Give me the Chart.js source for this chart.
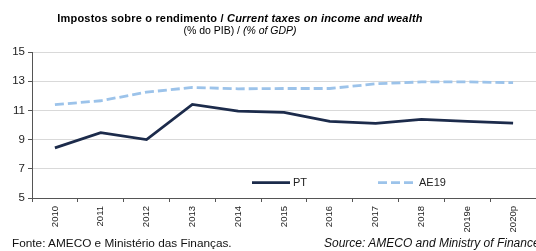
<!DOCTYPE html>
<html><head><meta charset="utf-8">
<script src="https://cdn.jsdelivr.net/npm/chart.js@4"></script>
<style>
html,body{margin:0;padding:0;background:#fff;}
#wrap{position:relative;width:536px;height:251px;overflow:hidden;font-family:Arial,"Liberation Sans",sans-serif;color:#000;}
canvas{position:absolute;left:0;top:0;}
.t1{position:absolute;left:0;width:480px;top:12px;text-align:center;font-size:11px;font-weight:bold;letter-spacing:0.2px;}
.t2{position:absolute;left:0;width:480px;top:24px;text-align:center;font-size:10.5px;}
.f1{position:absolute;left:12px;top:236px;font-size:11.8px;white-space:nowrap;color:#111;}
.f2{position:absolute;left:324px;top:236px;font-size:12px;font-style:italic;white-space:nowrap;color:#111;}
</style></head>
<body><div id="wrap">
<canvas id="c" width="536" height="251"></canvas>
<div class="t1">Impostos sobre o rendimento / <i>Current taxes on income and wealth</i></div>
<div class="t2">(% do PIB) / <i>(% of GDP)</i></div>
<div class="f1">Fonte: AMECO e Ministério das Finanças.</div>
<div class="f2">Source: AMECO and Ministry of Finance</div>
</div>
<script>
const categories = ["2010","2011","2012","2013","2014","2015","2016","2017","2018","2019e","2020p"];
const ptValues = [8.43, 9.48, 9.0, 11.41, 10.95, 10.86, 10.25, 10.11, 10.39, 10.25, 10.13];
const ae19Values = [11.39, 11.66, 12.25, 12.57, 12.48, 12.5, 12.5, 12.82, 12.95, 12.95, 12.9];
const yTicks = [5, 7, 9, 11, 13, 15];
const seriesNames = ["PT", "AE19"];

const legendPlugin = {
  id: 'inLegend',
  afterDatasetsDraw(chart) {
    const ctx = chart.ctx, a = chart.chartArea;
    const y = a.top + (a.bottom - a.top) * 0.895;
    const items = [
      {x: a.left + 220, ds: chart.data.datasets[0]},
      {x: a.left + 346, ds: chart.data.datasets[1]}
    ];
    ctx.save();
    items.forEach(it => {
      ctx.beginPath();
      ctx.strokeStyle = it.ds.borderColor;
      ctx.lineWidth = it.ds.borderWidth;
      ctx.setLineDash(it.ds.borderDash || []);
      ctx.moveTo(it.x, y); ctx.lineTo(it.x + 38, y);
      ctx.stroke();
      ctx.setLineDash([]);
      ctx.fillStyle = '#222';
      ctx.font = '11px Arial, "Liberation Sans", sans-serif';
      ctx.textBaseline = 'middle';
      ctx.fillText(it.ds.label, it.x + 41, y + 0.5);
    });
    ctx.restore();
  }
};

new Chart(document.getElementById('c'), {
  type: 'line',
  data: {
    labels: categories,
    datasets: [
      {label: seriesNames[0], data: ptValues, borderColor: '#1c2b4b', borderWidth: 2.8, pointRadius: 0, tension: 0, fill: false},
      {label: seriesNames[1], data: ae19Values, borderColor: '#9cc3ea', borderWidth: 2.8, borderDash: [9, 4], pointRadius: 0, tension: 0, fill: false}
    ]
  },
  options: {
    responsive: false,
    animation: false,
    devicePixelRatio: 1,
    layout: {padding: {top: 52, left: 0, right: 0, bottom: 0}},
    plugins: {legend: {display: false}, tooltip: {enabled: false}, title: {display: false}},
    scales: {
      x: {
        offset: true,
        grid: {offset: true, drawOnChartArea: false, drawTicks: true, tickLength: 4, color: '#555'},
        border: {color: '#555', width: 1},
        ticks: {maxRotation: 90, minRotation: 90, autoSkip: false, padding: 4, color: '#222', font: {size: 9.5, family: 'Arial, "Liberation Sans", sans-serif'}},
        afterFit(s) { s.height = 53; }
      },
      y: {
        min: 5, max: 15,
        afterBuildTicks(s) { s.ticks = yTicks.map(v => ({value: v})); },
        grid: {color: '#d9d9d9', drawTicks: true, tickLength: 4, tickColor: '#555'},
        border: {color: '#555', width: 1},
        ticks: {padding: 3, color: '#222', font: {size: 11.5, family: 'Arial, "Liberation Sans", sans-serif'}},
        afterFit(s) { s.width = 32; }
      }
    }
  },
  plugins: [legendPlugin]
});
</script>
</body></html>
